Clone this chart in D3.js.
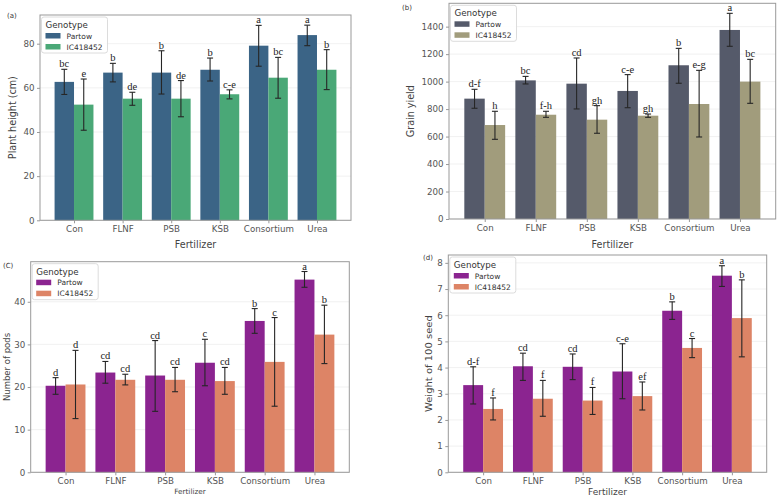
<!DOCTYPE html>
<html>
<head>
<meta charset="utf-8">
<script src="https://cdn.jsdelivr.net/npm/d3@7"></script>
<style>
  body { margin: 0; background: #fff; }
  svg { display: block; }
  .sig { font-family: "Liberation Serif", "Times New Roman", "DejaVu Serif", serif; }
</style>
</head>
<body>
<svg id="chart" width="780" height="497"></svg>
<script>
const fertilizers = ["Con", "FLNF", "PSB", "KSB", "Consortium", "Urea"];
const genotypes = ["Partow", "IC418452"];

// (a) plant height
const heightPartow = [62.7, 66.9, 66.9, 68.2, 79.1, 83.9];
const heightPartowLo = [57.0, 62.7, 57.2, 63.1, 69.8, 79.1];
const heightPartowHi = [68.4, 71.1, 76.8, 73.5, 88.3, 88.4];
const heightIC = [52.4, 55.1, 55.1, 57.1, 64.6, 68.2];
const heightICLo = [40.8, 52.1, 46.9, 55.0, 55.3, 59.2];
const heightICHi = [64.0, 58.0, 63.3, 59.1, 73.8, 77.3];
const heightLettersPartow = ["bc", "b", "b", "b", "a", "a"];
const heightLettersIC = ["e", "de", "de", "c-e", "bc", "b"];
const heightTicks = [0, 20, 40, 60, 80];

// (b) grain yield
const yieldPartow = [876, 1009, 985, 932, 1119, 1376];
const yieldPartowLo = [806, 983, 801, 810, 988, 1257];
const yieldPartowHi = [944, 1038, 1172, 1051, 1242, 1497];
const yieldIC = [684, 759, 723, 752, 837, 1000];
const yieldICLo = [580, 740, 624, 740, 597, 842];
const yieldICHi = [784, 784, 825, 764, 1082, 1162];
const yieldLettersPartow = ["d-f", "bc", "cd", "c-e", "b", "a"];
const yieldLettersIC = ["h", "f-h", "gh", "gh", "e-g", "bc"];
const yieldTicks = [0, 200, 400, 600, 800, 1000, 1200, 1400];

// (C) number of pods
const podsPartow = [20.3, 23.4, 22.7, 25.7, 35.5, 45.2];
const podsPartowLo = [18.3, 20.9, 14.3, 20.3, 32.6, 43.4];
const podsPartowHi = [22.2, 26.0, 30.9, 31.2, 38.4, 47.1];
const podsIC = [20.6, 21.7, 21.7, 21.4, 25.9, 32.3];
const podsICLo = [12.6, 20.5, 18.9, 18.3, 15.5, 25.5];
const podsICHi = [28.6, 23.0, 24.6, 24.6, 36.3, 39.2];
const podsLettersPartow = ["d", "cd", "cd", "c", "b", "a"];
const podsLettersIC = ["d", "cd", "cd", "cd", "c", "b"];
const podsTicks = [0, 10, 20, 30, 40];

// (d) weight of 100 seed
const seedPartow = [3.33, 4.05, 4.03, 3.85, 6.17, 7.51];
const seedPartowLo = [2.61, 3.51, 3.54, 2.81, 5.84, 7.10];
const seedPartowHi = [4.03, 4.55, 4.52, 4.91, 6.51, 7.89];
const seedIC = [2.42, 2.81, 2.74, 2.91, 4.75, 5.89];
const seedICLo = [2.00, 2.14, 2.21, 2.38, 4.38, 4.41];
const seedICHi = [2.84, 3.51, 3.24, 3.45, 5.11, 7.35];
const seedLettersPartow = ["d-f", "cd", "cd", "c-e", "b", "a"];
const seedLettersIC = ["f", "f", "f", "ef", "c", "b"];
const seedTicks = [0, 1, 2, 3, 4, 5, 6, 7, 8];

const svg = d3.select("#chart");
const SANS = "'DejaVu Sans', sans-serif";

function drawPanel(cfg) {
  const x = d3.scaleLinear().domain([-0.7, fertilizers.length - 0.3]).range([cfg.left, cfg.right]);
  const y = d3.scaleLinear().domain([0, cfg.ymax]).range([cfg.bottom, cfg.top]);
  const g = svg.append("g");

  // light grid
  g.selectAll(".grid").data(cfg.ticks).join("line")
    .attr("x1", cfg.left).attr("x2", cfg.right)
    .attr("y1", d => y(d)).attr("y2", d => y(d))
    .attr("stroke", "#eeeeee").attr("stroke-width", 0.8);

  const rows = [];
  fertilizers.forEach((f, i) => {
    rows.push({i, k: 0, v: cfg.p[i], lo: cfg.pLo[i], hi: cfg.pHi[i], lab: cfg.pLab[i]});
    rows.push({i, k: 1, v: cfg.c[i], lo: cfg.cLo[i], hi: cfg.cHi[i], lab: cfg.cLab[i]});
  });
  const bx = d => x(d.i - 0.4 + d.k * 0.4);
  const bw = x(0.4) - x(0);
  const cx = d => bx(d) + bw / 2;

  g.selectAll(".bar").data(rows).join("rect")
    .attr("x", bx).attr("width", bw)
    .attr("y", d => y(d.v)).attr("height", d => y(0) - y(d.v))
    .attr("fill", d => cfg.colors[d.k]);

  const eb = g.selectAll(".err").data(rows).join("g").attr("stroke", "#262626").attr("stroke-width", 1.1);
  eb.append("line").attr("x1", cx).attr("x2", cx).attr("y1", d => y(d.lo)).attr("y2", d => y(d.hi));
  eb.append("line").attr("x1", d => cx(d) - 3).attr("x2", d => cx(d) + 3).attr("y1", d => y(d.lo)).attr("y2", d => y(d.lo));
  eb.append("line").attr("x1", d => cx(d) - 3).attr("x2", d => cx(d) + 3).attr("y1", d => y(d.hi)).attr("y2", d => y(d.hi));

  // significance letters (serif)
  g.selectAll(".sig").data(rows).join("text")
    .attr("class", "sig")
    .attr("x", cx).attr("y", d => y(d.hi) - 2)
    .attr("text-anchor", "middle")
    .attr("font-size", 10.5).attr("fill", "#222")
    .text(d => d.lab);

  // frame
  g.append("rect")
    .attr("x", cfg.left).attr("y", cfg.top)
    .attr("width", cfg.right - cfg.left).attr("height", cfg.bottom - cfg.top)
    .attr("fill", "none").attr("stroke", "#999").attr("stroke-width", 1);

  // axes
  const yAxis = d3.axisLeft(y).tickValues(cfg.ticks).tickFormat(d3.format("d")).tickSize(3).tickPadding(2.5);
  const yG = g.append("g").attr("transform", `translate(${cfg.left},0)`).call(yAxis);
  yG.select(".domain").remove();
  yG.selectAll("line").attr("stroke", "#999");
  yG.selectAll("text").style("font-family", SANS).attr("font-size", 8.7).attr("fill", "#555");

  const xAxis = d3.axisBottom(x).tickValues(d3.range(fertilizers.length))
    .tickFormat(i => fertilizers[i]).tickSize(3).tickPadding(2.5);
  const xG = g.append("g").attr("transform", `translate(0,${cfg.bottom})`).call(xAxis);
  xG.select(".domain").remove();
  xG.selectAll("line").attr("stroke", "#999");
  xG.selectAll("text").style("font-family", SANS).attr("font-size", 8.7).attr("fill", "#555");

  g.append("text")
    .attr("transform", `translate(${cfg.ylabX},${(cfg.top + cfg.bottom) / 2}) rotate(-90) scale(${cfg.ylabStretch || 1},1)`)
    .attr("text-anchor", "middle").attr("dominant-baseline", "central")
    .style("font-family", SANS).attr("font-size", cfg.ylabSize).attr("fill", "#444")
    .text(cfg.ylabel);
  g.append("text")
    .attr("x", (cfg.left + cfg.right) / 2).attr("y", cfg.xlabY)
    .attr("text-anchor", "middle").attr("dominant-baseline", "central")
    .style("font-family", SANS).attr("font-size", cfg.xlabSize).attr("fill", "#444")
    .text("Fertilizer");

  g.append("text")
    .attr("x", cfg.tagX).attr("y", cfg.tagY)
    .style("font-family", SANS).attr("font-size", 7).attr("fill", "#333")
    .text(cfg.tag);

  // legend
  const lg = g.append("g").attr("transform", `translate(${cfg.left + 1.5},${cfg.top + 2})`);
  lg.append("rect").attr("width", 66).attr("height", 36).attr("rx", 2.5)
    .attr("fill", "#fff").attr("fill-opacity", 0.85).attr("stroke", "#dcdcdc");
  lg.append("text").attr("x", 4).attr("y", 11)
    .style("font-family", SANS).attr("font-size", 8.7).attr("fill", "#333").text("Genotype");
  genotypes.forEach((gname, k) => {
    lg.append("rect").attr("x", 4).attr("y", 16 + k * 11).attr("width", 15).attr("height", 5.5)
      .attr("fill", cfg.colors[k]);
    lg.append("text").attr("x", 25).attr("y", 21.5 + k * 11)
      .style("font-family", SANS).attr("font-size", 7.5).attr("fill", "#333").text(gname);
  });
}

drawPanel({
  tag: "(a)", tagX: 7, tagY: 18,
  left: 40, right: 351, top: 15, bottom: 220.3, ymax: 93,
  ticks: heightTicks, ylabel: "Plant height (cm)", ylabX: 12, xlabY: 244,
  ylabSize: 9.6, xlabSize: 9.6,
  colors: ["#3b6486", "#4aa877"],
  p: heightPartow, pLo: heightPartowLo, pHi: heightPartowHi, pLab: heightLettersPartow,
  c: heightIC, cLo: heightICLo, cHi: heightICHi, cLab: heightLettersIC
});

drawPanel({
  tag: "(b)", tagX: 402, tagY: 10,
  left: 449, right: 775.7, top: 3.3, bottom: 219, ymax: 1570,
  ticks: yieldTicks, ylabel: "Grain yield", ylabX: 410, xlabY: 244,
  ylabSize: 9.6, xlabSize: 9.6,
  colors: ["#555a6a", "#a19c7c"],
  p: yieldPartow, pLo: yieldPartowLo, pHi: yieldPartowHi, pLab: yieldLettersPartow,
  c: yieldIC, cLo: yieldICLo, cHi: yieldICHi, cLab: yieldLettersIC
});

drawPanel({
  tag: "(C)", tagX: 3, tagY: 268,
  left: 30.7, right: 349.3, top: 261.7, bottom: 472.3, ymax: 49.4,
  ticks: podsTicks, ylabel: "Number of pods", ylabX: 7, xlabY: 491.5,
  ylabSize: 8.5, xlabSize: 7.3,
  colors: ["#8b2490", "#dd8466"],
  p: podsPartow, pLo: podsPartowLo, pHi: podsPartowHi, pLab: podsLettersPartow,
  c: podsIC, cLo: podsICLo, cHi: podsICHi, cLab: podsLettersIC
});

drawPanel({
  tag: "(d)", tagX: 423, tagY: 260,
  left: 448.3, right: 766.7, top: 255, bottom: 472.3, ymax: 8.3,
  ticks: seedTicks, ylabel: "Weight of 100 seed", ylabX: 429, xlabY: 492,
  ylabSize: 8, ylabStretch: 1.25, xlabSize: 9,
  colors: ["#8b2490", "#dd8466"],
  p: seedPartow, pLo: seedPartowLo, pHi: seedPartowHi, pLab: seedLettersPartow,
  c: seedIC, cLo: seedICLo, cHi: seedICHi, cLab: seedLettersIC
});
</script>
</body>
</html>
